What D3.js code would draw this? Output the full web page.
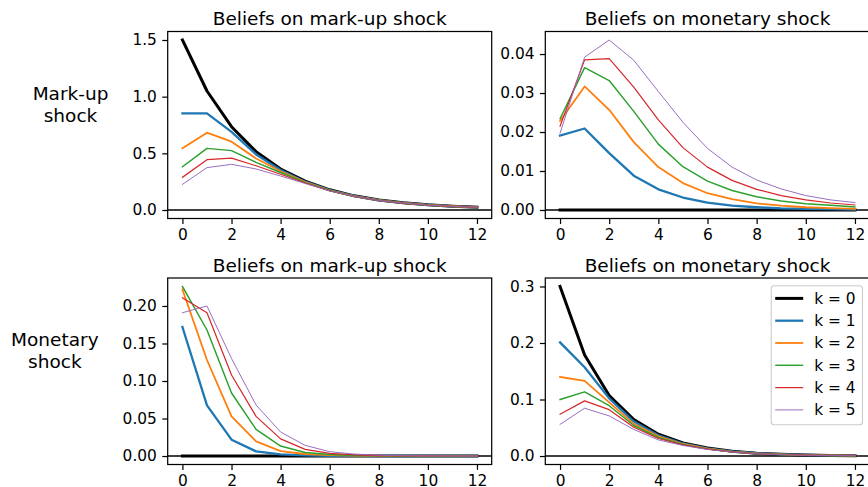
<!DOCTYPE html>
<html>
<head>
<meta charset="utf-8">
<script src="https://cdn.jsdelivr.net/npm/d3@7"></script>
<style>
  html, body { margin: 0; padding: 0; background: #fff; }
  svg { display: block; font-family: "DejaVu Sans", sans-serif; }
</style>
</head>
<body>
<svg id="chart" width="868" height="487"></svg>
<script>
// Horizons and tick labels
const horizons = d3.range(0, 13);
const xTicks = [0, 2, 4, 6, 8, 10, 12];
const seriesLabels = ["k = 0", "k = 1", "k = 2", "k = 3", "k = 4", "k = 5"];
const seriesColors = ["#000000", "#1f77b4", "#ff7f0e", "#2ca02c", "#d62728", "#9467bd"];
const seriesWidths = [3.0, 2.3, 1.8, 1.45, 1.2, 0.95];

const columnTitles = ["Beliefs on mark-up shock", "Beliefs on monetary shock"];
const rowTitles = [["Mark-up", "shock"], ["Monetary", "shock"]];

// Mark-up shock: beliefs on the mark-up shock, one row per k
const markupShockMarkupBeliefs = [
  [1.500, 1.050, 0.735, 0.515, 0.362, 0.254, 0.178, 0.125, 0.089, 0.064, 0.046, 0.034, 0.025],
  [0.853, 0.853, 0.690, 0.490, 0.353, 0.250, 0.176, 0.124, 0.088, 0.063, 0.046, 0.033, 0.024],
  [0.544, 0.682, 0.603, 0.455, 0.342, 0.246, 0.174, 0.123, 0.087, 0.062, 0.045, 0.033, 0.024],
  [0.382, 0.544, 0.524, 0.420, 0.331, 0.242, 0.172, 0.122, 0.086, 0.062, 0.045, 0.032, 0.023],
  [0.288, 0.444, 0.458, 0.390, 0.315, 0.238, 0.170, 0.121, 0.086, 0.061, 0.044, 0.032, 0.023],
  [0.226, 0.374, 0.403, 0.362, 0.300, 0.234, 0.168, 0.120, 0.085, 0.061, 0.044, 0.032, 0.023]
];

// Mark-up shock: beliefs on the monetary shock
const markupShockMonetaryBeliefs = [
  [0, 0, 0, 0, 0, 0, 0, 0, 0, 0, 0, 0, 0],
  [0.0191, 0.0209, 0.0146, 0.0088, 0.0053, 0.0032, 0.0019, 0.0011, 0.0007, 0.0004, 0.0003, 0.0002, 0.0001],
  [0.0228, 0.0317, 0.0257, 0.0174, 0.0110, 0.0069, 0.0043, 0.0028, 0.0017, 0.0011, 0.0007, 0.0005, 0.0003],
  [0.0234, 0.0365, 0.0332, 0.0253, 0.0169, 0.0111, 0.0074, 0.0050, 0.0034, 0.0023, 0.0016, 0.0012, 0.0008],
  [0.0215, 0.0385, 0.0388, 0.0315, 0.0231, 0.0160, 0.0110, 0.0076, 0.0053, 0.0037, 0.0026, 0.0018, 0.0013],
  [0.0197, 0.0392, 0.0436, 0.0384, 0.0304, 0.0225, 0.0158, 0.0110, 0.0077, 0.0054, 0.0037, 0.0026, 0.0019]
];

// Monetary shock: beliefs on the mark-up shock
const monetaryShockMarkupBeliefs = [
  [0, 0, 0, 0, 0, 0, 0, 0, 0, 0, 0, 0, 0],
  [0.172, 0.0676, 0.0218, 0.0062, 0.0022, 0.0009, 0.0003, 0.0001, 0, 0, 0, 0, 0],
  [0.222, 0.128, 0.0529, 0.0196, 0.0065, 0.0027, 0.0012, 0.0005, 0.0002, 0.0001, 0, 0, 0],
  [0.226, 0.168, 0.084, 0.0355, 0.0133, 0.0046, 0.0020, 0.0008, 0.0003, 0.0001, 0, 0, 0],
  [0.211, 0.191, 0.108, 0.0529, 0.0228, 0.0089, 0.0035, 0.0015, 0.0006, 0.0002, 0.0001, 0, 0],
  [0.191, 0.200, 0.130, 0.068, 0.032, 0.0142, 0.0058, 0.0026, 0.0011, 0.0004, 0.0002, 0.0001, 0]
];

// Monetary shock: beliefs on the monetary shock
const monetaryShockMonetaryBeliefs = [
  [0.300, 0.1787, 0.107, 0.0645, 0.0385, 0.0232, 0.0142, 0.0085, 0.0051, 0.0031, 0.0018, 0.0011, 0.0007],
  [0.201, 0.157, 0.102, 0.061, 0.0368, 0.0222, 0.0137, 0.0082, 0.0049, 0.0030, 0.0018, 0.0011, 0.0007],
  [0.140, 0.133, 0.095, 0.057, 0.0350, 0.0213, 0.0131, 0.0079, 0.0048, 0.0029, 0.0017, 0.0010, 0.0006],
  [0.100, 0.1136, 0.089, 0.054, 0.0328, 0.0204, 0.0126, 0.0076, 0.0046, 0.0028, 0.0017, 0.0010, 0.0006],
  [0.074, 0.0976, 0.082, 0.051, 0.0310, 0.0196, 0.0121, 0.0073, 0.0044, 0.0027, 0.0016, 0.0010, 0.0006],
  [0.056, 0.0846, 0.071, 0.047, 0.0285, 0.0187, 0.0116, 0.0070, 0.0042, 0.0026, 0.0015, 0.0009, 0.0005]
];

// y tick values per panel
const yTicksMarkupMarkup = [0.0, 0.5, 1.0, 1.5];
const yTicksMarkupMonetary = [0.00, 0.01, 0.02, 0.03, 0.04];
const yTicksMonetaryMarkup = [0.00, 0.05, 0.10, 0.15, 0.20];
const yTicksMonetaryMonetary = [0.0, 0.1, 0.2, 0.3];

const panels = [
  { row: 0, col: 0, data: markupShockMarkupBeliefs, ticks: yTicksMarkupMarkup, fmt: ".1f" },
  { row: 0, col: 1, data: markupShockMonetaryBeliefs, ticks: yTicksMarkupMonetary, fmt: ".2f" },
  { row: 1, col: 0, data: monetaryShockMarkupBeliefs, ticks: yTicksMonetaryMarkup, fmt: ".2f" },
  { row: 1, col: 1, data: monetaryShockMonetaryBeliefs, ticks: yTicksMonetaryMonetary, fmt: ".1f", legend: true }
];

// Figure layout (pixels)
const colX = [[167.7, 491.7], [545.3, 869.7]];
const rowY = [[31.5, 218.5], [278.0, 464.5]];
const tickFont = 15.4;
const titleFont = 18.5;
const tickLen = 5.4;
const tickPad = 5.4;
const spineWidth = 1.23;

const svg = d3.select("#chart");
const defs = svg.append("defs");

function textWidth(t, size) {
  const tmp = svg.append("text").style("font-size", size + "px").text(t);
  const w = tmp.node().getComputedTextLength();
  tmp.remove();
  return w;
}

panels.forEach((p, i) => {
  const [x0, x1] = colX[p.col];
  const [y0, y1] = rowY[p.row];

  const x = d3.scaleLinear().domain([-0.6, 12.6]).range([x0, x1]);
  const all = p.data.flat();
  const lo = Math.min(0, d3.min(all));
  const hi = d3.max(all);
  const pad = 0.05 * (hi - lo);
  const y = d3.scaleLinear().domain([lo - pad, hi + pad]).range([y1, y0]);

  const g = svg.append("g");

  defs.append("clipPath").attr("id", "clip" + i)
    .append("rect").attr("x", x0).attr("y", y0).attr("width", x1 - x0).attr("height", y1 - y0);

  const plot = g.append("g").attr("clip-path", `url(#clip${i})`);

  // zero reference line
  plot.append("line")
    .attr("x1", x0).attr("x2", x1)
    .attr("y1", y(0)).attr("y2", y(0))
    .attr("stroke", "#000").attr("stroke-width", 1.5);

  const line = d3.line().x((d, j) => x(horizons[j])).y(d => y(d));

  p.data.forEach((series, k) => {
    plot.append("path")
      .datum(series)
      .attr("d", line)
      .attr("fill", "none")
      .attr("stroke", seriesColors[k])
      .attr("stroke-width", seriesWidths[k])
      .attr("stroke-linejoin", "round")
      .attr("stroke-linecap", "square");
  });

  // spines
  g.append("rect")
    .attr("x", x0).attr("y", y0).attr("width", x1 - x0).attr("height", y1 - y0)
    .attr("fill", "none").attr("stroke", "#000").attr("stroke-width", spineWidth);

  // x axis
  const xa = g.append("g").attr("transform", `translate(0,${y1})`)
    .call(d3.axisBottom(x).tickValues(xTicks).tickFormat(d3.format("d"))
      .tickSize(tickLen).tickSizeOuter(0).tickPadding(tickPad));
  // y axis
  const ya = g.append("g").attr("transform", `translate(${x0},0)`)
    .call(d3.axisLeft(y).tickValues(p.ticks).tickFormat(d3.format(p.fmt))
      .tickSize(tickLen).tickSizeOuter(0).tickPadding(tickPad));

  [xa, ya].forEach(a => {
    a.select(".domain").remove();
    a.selectAll(".tick line").attr("stroke", "#000").attr("stroke-width", spineWidth);
    a.selectAll(".tick text")
      .attr("fill", "#000")
      .style("font-size", tickFont + "px")
      .style("font-family", "'DejaVu Sans', sans-serif");
  });
  // x tick labels sit with their baseline a fixed distance below the axis
  xa.selectAll(".tick text").attr("y", 21.6).attr("dy", null);

  // column title
  g.append("text")
    .attr("x", (x0 + x1) / 2).attr("y", y0 - 6.5)
    .attr("text-anchor", "middle")
    .style("font-size", titleFont + "px")
    .text(columnTitles[p.col]);

  // row label on the left column
  if (p.col === 0) {
    const ticksW = d3.max(ya.selectAll(".tick text").nodes(), n => n.getComputedTextLength());
    const labelRight = x0 - tickLen - tickPad - ticksW - 24;
    const lines = rowTitles[p.row];
    const maxW = d3.max(lines, t => textWidth(t, titleFont));
    const cx = labelRight - maxW / 2;
    const lastBase = (y0 + y1) / 2 - 3.4;
    const label = g.append("text")
      .attr("text-anchor", "middle")
      .style("font-size", titleFont + "px");
    lines.forEach((t, li) => {
      label.append("tspan")
        .attr("x", cx)
        .attr("y", lastBase - (lines.length - 1 - li) * 21.5)
        .text(t);
    });
  }

  // legend
  if (p.legend) {
    const lw = 91.3, lh = 139;
    const lx = x1 - 7.7 - lw + 0.5;
    const ly = y0 + 7.7;
    const lg = g.append("g");
    lg.append("rect")
      .attr("x", lx).attr("y", ly).attr("width", lw).attr("height", lh)
      .attr("rx", 3).attr("ry", 3)
      .attr("fill", "#fff").attr("fill-opacity", 0.8)
      .attr("stroke", "#cccccc").attr("stroke-width", 1.1);
    seriesLabels.forEach((lab, k) => {
      const cy = ly + 12.7 + k * 22.3;
      lg.append("line")
        .attr("x1", lx + 4).attr("x2", lx + 32)
        .attr("y1", cy).attr("y2", cy)
        .attr("stroke", seriesColors[k]).attr("stroke-width", seriesWidths[k]);
      lg.append("text")
        .attr("x", lx + 43).attr("y", cy)
        .attr("dy", "0.35em")
        .style("font-size", tickFont + "px")
        .text(lab);
    });
  }
});
</script>
</body>
</html>
